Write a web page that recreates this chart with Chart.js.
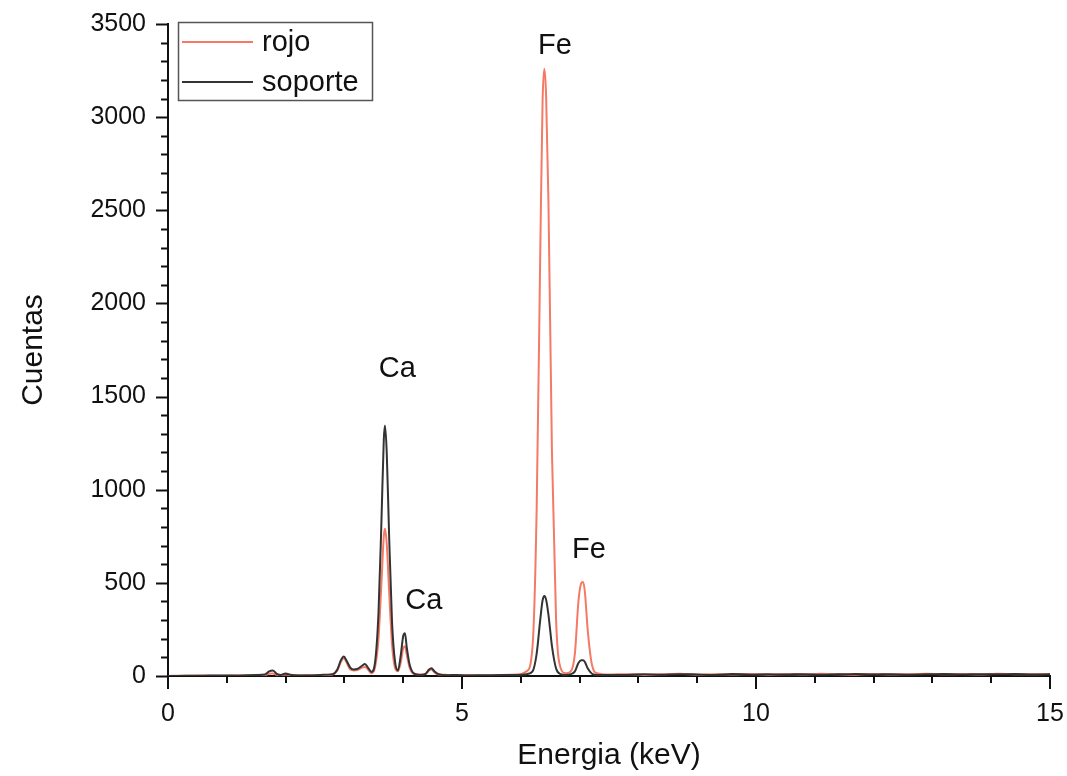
<!DOCTYPE html>
<html>
<head>
<meta charset="utf-8">
<title>Espectro</title>
<script src="https://cdn.jsdelivr.net/npm/chart.js@4/dist/chart.umd.min.js"></script>
<style>
  html, body { margin: 0; padding: 0; background: #fff; }
  #wrap { width: 1067px; height: 776px; }
</style>
</head>
<body>
<div id="wrap"><canvas id="chart" width="1067" height="776"></canvas></div>
<script>
// energia (keV) y cuentas
const energia = [
  0.00, 0.30, 0.60, 0.90, 1.20, 1.50, 1.65, 1.72, 1.78, 1.85, 1.92, 2.00, 2.06, 2.15, 2.40, 2.60,
  2.80, 2.88, 2.94, 2.99, 3.04, 3.10, 3.16, 3.22, 3.30, 3.35, 3.40, 3.46, 3.52, 3.58, 3.63, 3.67,
  3.69, 3.72, 3.76, 3.81, 3.86, 3.91, 3.96, 4.00, 4.03, 4.06, 4.11, 4.18, 4.28, 4.38, 4.44, 4.48,
  4.53, 4.60, 4.75, 4.90, 5.10, 5.40, 5.70, 5.95, 6.10, 6.20, 6.27, 6.33, 6.37, 6.40, 6.43, 6.47,
  6.53, 6.60, 6.68, 6.76, 6.85, 6.92, 6.98, 7.03, 7.06, 7.09, 7.14, 7.21, 7.30, 7.50, 7.80, 8.10,
  8.40, 8.70, 9.00, 9.30, 9.60, 9.90, 10.2, 10.5, 10.8, 11.1, 11.4, 11.7, 12.0, 12.3, 12.6, 12.9,
  13.2, 13.5, 13.8, 14.1, 14.4, 14.7, 15.0
];
const rojo = [
  0, 2, 3, 1, 4, 3, 5, 12, 14, 6, 4, 8, 5, 3, 5, 4,
  8, 30, 75, 95, 70, 35, 30, 32, 45, 48, 35, 15, 45, 200, 500, 750,
  790, 710, 460, 170, 45, 25, 75, 150, 160, 115, 45, 12, 8, 10, 30, 35,
  20, 8, 6, 4, 5, 3, 6, 8, 25, 160, 900, 2250, 3080, 3260, 3120, 2550,
  1200, 300, 40, 15, 25, 120, 400, 500, 505, 450, 240, 60, 15, 8, 10, 6,
  9, 12, 7, 10, 8, 11, 7, 10, 8, 12, 9, 7, 11, 8, 10, 12,
  9, 11, 8, 12, 10, 9, 11
];
const soporte = [
  0, 1, 2, 3, 2, 5, 8, 25, 30, 12, 6, 14, 8, 4, 3, 6,
  10, 35, 85, 105, 80, 45, 35, 38, 55, 65, 45, 22, 70, 340, 830, 1270,
  1345, 1200, 760, 290, 80, 30, 115, 215, 230, 155, 60, 14, 6, 12, 35, 42,
  25, 10, 4, 6, 3, 4, 5, 6, 10, 25, 120, 300, 405, 430, 410, 330,
  160, 40, 10, 6, 10, 25, 70, 85, 85, 75, 40, 12, 5, 6, 6, 9,
  7, 10, 8, 6, 11, 7, 9, 8, 10, 7, 9, 11, 8, 10, 7, 9,
  11, 8, 10, 9, 11, 8, 9
];
const series = ["rojo", "soporte"];
const colores = ["#f47a66", "#333333"];
const xTicks = [0, 5, 10, 15];
const yTicks = [0, 500, 1000, 1500, 2000, 2500, 3000, 3500];
const etiquetas = ["Fe", "Ca", "Ca", "Fe"];
const etiquetaX = [6.58, 3.90, 4.35, 7.16];
const etiquetaY = [3384, 1648, 402, 676];

const FONT = "'Liberation Sans', Arial, sans-serif";

const toPoints = ys => energia.map((e, i) => ({ x: e, y: ys[i] }));

// ticks mayores/menores, etiquetas de picos y leyenda con marco
const extras = {
  id: "extras",
  afterDraw(chart) {
    const { ctx, scales: { x, y } } = chart;
    ctx.save();
    ctx.strokeStyle = "#111";
    ctx.lineWidth = 2;
    for (let v = 0; v <= 3500; v += 100) {
      const p = Math.round(y.getPixelForValue(v)) + 0.5;
      const len = v % 500 === 0 ? 12 : 7;
      ctx.beginPath(); ctx.moveTo(x.left, p); ctx.lineTo(x.left - len, p); ctx.stroke();
    }
    for (let v = 0; v <= 15; v += 1) {
      const p = Math.round(x.getPixelForValue(v));
      const len = v % 5 === 0 ? 13 : 7;
      ctx.beginPath(); ctx.moveTo(p, y.bottom); ctx.lineTo(p, y.bottom + len); ctx.stroke();
    }

    ctx.fillStyle = "#111";
    ctx.font = "29px " + FONT;
    ctx.textAlign = "center";
    ctx.textBaseline = "middle";
    etiquetas.forEach((t, i) => {
      ctx.fillText(t, x.getPixelForValue(etiquetaX[i]), y.getPixelForValue(etiquetaY[i]));
    });

    // leyenda
    const bx = 178, by = 22, bw = 194, bh = 78;
    ctx.lineWidth = 1.5;
    ctx.strokeStyle = "#555";
    ctx.strokeRect(bx + 0.5, by + 0.5, bw, bh);
    ctx.textAlign = "left";
    ctx.font = "29px " + FONT;
    series.forEach((s, i) => {
      const ly = by + 20 + i * 40;
      ctx.strokeStyle = colores[i];
      ctx.lineWidth = 2;
      ctx.beginPath(); ctx.moveTo(bx + 4, ly); ctx.lineTo(bx + 75, ly); ctx.stroke();
      ctx.fillStyle = "#111";
      ctx.fillText(s, bx + 84, ly + 1);
    });
    ctx.restore();
  }
};

new Chart(document.getElementById("chart"), {
  type: "line",
  data: {
    datasets: [
      { label: series[0], data: toPoints(rojo), borderColor: colores[0], borderWidth: 2, order: 1 },
      { label: series[1], data: toPoints(soporte), borderColor: colores[1], borderWidth: 2, order: 0 }
    ]
  },
  options: {
    responsive: false,
    animation: false,
    layout: { padding: { left: 0, right: 17, top: 24, bottom: 0 } },
    elements: { point: { radius: 0 }, line: { cubicInterpolationMode: "monotone", fill: false } },
    plugins: { legend: { display: false }, tooltip: { enabled: false } },
    scales: {
      x: {
        type: "linear", min: 0, max: 15,
        afterBuildTicks: s => { s.ticks = xTicks.map(v => ({ value: v })); },
        afterFit: s => { s.height = 100; s.paddingLeft = 0; s.paddingRight = 0; },
        grid: { display: false },
        border: { display: true, color: "#111", width: 2 },
        ticks: { color: "#111", font: { family: FONT, size: 25 }, padding: 15, maxRotation: 0, callback: v => String(v) },
        title: { display: true, text: "Energia (keV)", color: "#111", font: { family: FONT, size: 30 }, padding: { top: 0, bottom: 2 } }
      },
      y: {
        type: "linear", min: 0, max: 3500,
        afterBuildTicks: s => { s.ticks = yTicks.map(v => ({ value: v })); },
        afterFit: s => { s.width = 168; s.paddingTop = 0; s.paddingBottom = 0; },
        grid: { display: false },
        border: { display: true, color: "#111", width: 2 },
        ticks: { color: "#111", font: { family: FONT, size: 25 }, padding: 14, callback: v => String(v) },
        title: { display: true, text: "Cuentas", color: "#111", font: { family: FONT, size: 30 }, padding: { top: 16, bottom: 0 } }
      }
    }
  },
  plugins: [extras]
});
</script>
</body>
</html>
